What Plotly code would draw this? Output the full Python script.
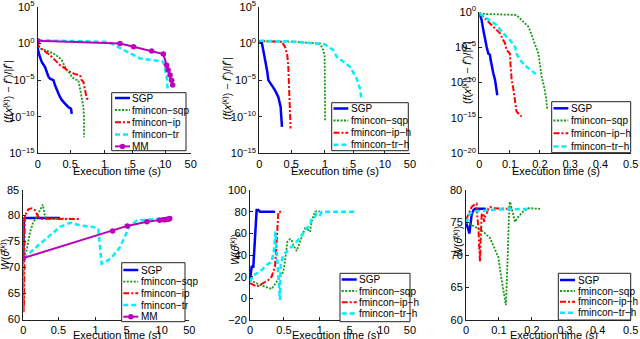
import numpy as np
import plotly.graph_objects as go

W, H = 640, 339
FONT = "Liberation Sans, Arial, sans-serif"

# ---- axis tick definitions ----
TIME_TICKS = [0, 0.5, 1, 5, 10, 50]
TIME_TICK_TEXT = ["0", "0.5", "1", "5", "10", "50"]
TIME_TICK_POS = [0, 1.06, 2.18, 3.11, 4.17, 5]   # stretched time axis (first two columns)
LIN_TICKS = [0, 0.1, 0.2, 0.3, 0.4, 0.5]
LOG_TICKS_A = [-15, -10, -5, 0, 5]
LOG_TICKS_C = [-20, -15, -10, -5, 0]
W_TICKS_D = [60, 65, 70, 75, 80, 85]
W_TICKS_E = [-20, 0, 20, 40, 60, 80, 100]
W_TICKS_F = [60, 65, 70, 75, 80]

# ---- top-left: relative error (log10), time in s ----
a_sgp_t = [0, 0.003, 0.026, 0.062, 0.113, 0.139, 0.164, 0.19, 0.242, 0.267, 0.293, 0.318, 0.344, 0.37, 0.421, 0.473, 0.513, 0.523]
a_sgp_e = [0.2, -0.8, -1.6, -2.5, -3.2, -3.9, -4.5, -4.8, -5.0, -5.7, -6.4, -6.8, -7.3, -7.7, -8.2, -8.7, -8.9, -9.6]
a_sqp_t = [0, 0.036, 0.113, 0.242, 0.318, 0.37, 0.421, 0.447, 0.499, 0.522, 0.571, 0.62, 0.644, 0.669, 0.693, 0.702, 0.704]
a_sqp_e = [0.2, -0.66, -0.89, -1.35, -1.8, -2.26, -3.17, -3.63, -4.09, -4.54, -4.9, -5.0, -6.14, -7.28, -8.65, -10.0, -12.8]
a_ip_t = [0, 0.01, 0.087, 0.19, 0.267, 0.344, 0.421, 0.499, 0.571, 0.644, 0.669, 0.693, 0.718, 0.742, 0.791]
a_ip_e = [0.2, -0.43, -0.89, -1.58, -2.26, -2.95, -3.4, -3.86, -4.18, -4.31, -5.0, -5.23, -6.37, -7.5, -7.65]
a_tr_t = [0, 0.5, 1.0, 1.79, 4.6, 6.1, 8.16, 9.7, 12.2, 13.8]
a_tr_e = [0.45, 0.35, 0.25, 0.11, -1.35, -2.03, -2.26, -2.49, -4.54, -6.14]
mm_t = [0, 3.2, 5.1, 7.9, 9.7, 12.2, 14.5, 17.5, 20, 21.7]
a_mm_e = [0.39, 0.02, -0.43, -1.03, -1.44, -2.95, -3.6, -4.31, -5.0, -5.68]

# ---- top-middle ----
b_sgp_t = [0, 0.037, 0.052, 0.073, 0.104, 0.125, 0.141, 0.193, 0.245, 0.297, 0.334, 0.344, 0.355]
b_sgp_e = [0.25, 0.2, -0.43, -1.35, -2.72, -3.86, -5.0, -5.68, -6.37, -7.28, -8.65, -10.0, -11.4]
b_sqp_t = [0, 0.5, 0.925, 0.975, 0.995, 1.0, 1.0, 1.0]
b_sqp_e = [0.34, 0.25, 0.02, -0.89, -1.8, -4.1, -7.74, -10.5]
b_ip_t = [0, 0.2, 0.35, 0.402, 0.438, 0.454, 0.464, 0.47, 0.49]
b_ip_e = [0.34, 0.3, 0.25, -0.43, -1.58, -3.17, -5.0, -7.74, -11.6]
b_tr_t = [0, 0.5, 1.0, 2.19, 2.66, 3.62, 4.57, 5.57, 6.09, 6.35]
b_tr_e = [0.39, 0.3, -0.11, -0.89, -1.8, -2.49, -3.17, -4.77, -6.14, -7.74]

# ---- top-right ----
c_sgp_t = [0, 0.0077, 0.0132, 0.0187, 0.0242, 0.0297, 0.0352, 0.0374, 0.0407, 0.0463, 0.0518, 0.055, 0.0595]
c_sgp_e = [-0.24, -1.18, -2.6, -4.0, -4.94, -5.9, -6.1, -6.8, -7.76, -8.7, -9.6, -10.6, -11.8]
c_sqp_t = [0, 0.024, 0.068, 0.123, 0.145, 0.162, 0.173, 0.184, 0.195, 0.2, 0.206, 0.214, 0.22, 0.225]
c_sqp_e = [-0.24, -0.33, -0.38, -0.47, -1.4, -2.1, -3.3, -4.47, -5.9, -7.3, -9.2, -10.6, -12.0, -13.9]
c_ip_t = [0, 0.0242, 0.0463, 0.0683, 0.079, 0.085, 0.09, 0.096, 0.101, 0.1035, 0.107, 0.112, 0.118, 0.121, 0.123, 0.134, 0.14]
c_ip_e = [-0.14, -1.18, -2.1, -3.06, -4.0, -4.47, -5.4, -5.65, -5.9, -7.76, -9.65, -10.8, -12.5, -13.9, -14.1, -14.6, -14.8]
c_tr_t = [0, 0.0242, 0.0573, 0.079, 0.101, 0.118, 0.123, 0.134, 0.156, 0.178, 0.189]
c_tr_e = [-0.24, -0.94, -1.88, -3.06, -4.0, -4.94, -5.9, -6.8, -7.76, -8.5, -8.9]

# ---- bottom-left: W(theta) ----
d_sgp_t = [0, 0.004, 0.008, 0.02, 0.05, 0.52]
d_sgp_w = [71.8, 76, 79.5, 79.6, 79.5, 79.5]
d_sqp_t = [0, 0.048, 0.095, 0.142, 0.19, 0.213, 0.247, 0.276, 0.294, 0.308, 0.355, 0.52, 0.70]
d_sqp_w = [71.8, 73.3, 76.8, 78.7, 79.7, 80.3, 81.3, 82.1, 81.0, 79.7, 79.4, 79.4, 79.4]
d_ip_t = [0, 0.004, 0.008, 0.012, 0.016, 0.024, 0.071, 0.119, 0.166, 0.213, 0.237, 0.4, 0.803]
d_ip_w = [71.8, 61.4, 68, 64, 74, 80, 81.2, 81.4, 81.0, 79.7, 79.4, 79.4, 79.3]
d_tr_t = [0, 0.095, 0.237, 0.379, 0.52, 0.655, 0.79, 0.968, 1.34, 1.56, 1.78, 2.64, 3.28, 4.14, 5.49, 6.44, 8.3, 9.7, 13.8]
d_tr_w = [71.8, 72.9, 74.6, 76.2, 77.8, 78.6, 78.1, 77.8, 77.4, 74.0, 70.7, 71.4, 72.3, 73.9, 78.1, 79.0, 79.2, 79.4, 79.5]
d_mm_w = [71.8, 77.0, 78.0, 78.8, 79.1, 79.2, 79.2, 79.3, 79.3, 79.4]

# ---- bottom-middle ----
e_sgp_t = [0, 0.01, 0.025, 0.049, 0.083, 0.098, 0.123, 0.147, 0.37]
e_sgp_w = [16.9, 24.6, 29.2, 29.2, 67.7, 81.5, 81.5, 80, 80]
e_sqp_t = [0, 0.147, 0.295, 0.319, 0.393, 0.491, 0.515, 0.548, 0.585, 0.608, 0.631, 0.678, 0.724, 0.794, 0.841, 0.864, 0.887, 0.934, 0.98, 1.0]
e_sqp_w = [16.9, 12.3, 9.2, 8.6, 15.4, 24.6, 33.8, 52.3, 54.8, 53.8, 49.2, 43.7, 52.3, 64.6, 63.1, 61.5, 70.8, 80, 80.6, 80]
e_ip_t = [0, 0.098, 0.147, 0.27, 0.319, 0.368, 0.393, 0.408, 0.418, 0.49]
e_ip_w = [14, 10.8, 12.3, 16.9, 20, 29.2, 52.3, 76.9, 80, 80]
e_tr_t = [0, 0.049, 0.147, 0.246, 0.319, 0.354, 0.373, 0.442, 0.452, 0.491, 0.562, 0.631, 0.724, 0.794, 0.864, 0.887, 0.934, 0.957, 1.03, 1.26, 1.7, 6.05]
e_tr_w = [15.4, 21.5, 24.6, 30.8, 33.8, 44.6, 61.5, -1.5, 30.8, 40, 44.6, 49.2, 55.4, 63.1, 67.7, 73.8, 75.4, 78.5, 76.9, 80, 80, 80]

# ---- bottom-right ----
f_sgp_t = [0, 0.004, 0.008, 0.0101, 0.013, 0.0172, 0.0223, 0.0273, 0.06]
f_sgp_w = [75.0, 74.5, 73.8, 73.3, 74.5, 76.2, 76.9, 77.1, 77.1]
f_sqp_t = [0, 0.0324, 0.0526, 0.0729, 0.088, 0.098, 0.105, 0.111, 0.118, 0.121, 0.124, 0.1285, 0.1316, 0.1336, 0.1387, 0.1437, 0.1488, 0.159, 0.174, 0.189, 0.225]
f_sqp_w = [75.1, 74.1, 73.6, 72.6, 70.8, 69.7, 67.2, 65.1, 63.0, 62.3, 66, 74.9, 77.7, 78.2, 77.2, 75.9, 75.1, 75.9, 76.7, 77.2, 77.1]
f_ip_t = [0, 0.0101, 0.0172, 0.0273, 0.0324, 0.0344, 0.0374, 0.0405, 0.0425, 0.0445, 0.0455, 0.0476, 0.0526, 0.0547, 0.0577, 0.0628, 0.0678, 0.0729, 0.083, 0.14]
f_ip_w = [75.4, 76.7, 77.4, 77.8, 77.9, 75.9, 74.4, 70.8, 69.0, 72.3, 74.9, 76.2, 76.4, 75.1, 75.9, 76.4, 77.2, 77.4, 77.2, 77.1]
f_tr_t = [0, 0.005, 0.012, 0.022, 0.05, 0.1, 0.2]
f_tr_w = [74.9, 75.6, 76.4, 76.7, 76.8, 77.0, 77.1]

STYLE = {
    "sgp": dict(color="#0000ff", dash="solid", width=2.5),
    "sqp": dict(color="#159a15", dash="2px,1.5px", width=1.8),
    "ip": dict(color="#ff0000", dash="6px,2px,2px,2px", width=2),
    "tr": dict(color="#00eeff", dash="5px,3px", width=2.5),
    "mm": dict(color="#bb00bb", dash="solid", width=2),
}


def tpos(t):
    return np.interp(np.asarray(t, float), TIME_TICKS, TIME_TICK_POS)


fig = go.Figure()


def add(k, t, y, key, stretched, logy=False):
    x = tpos(t) if stretched else np.asarray(t, float)
    yy = 10 ** np.asarray(y, float) if logy else y
    st = STYLE[key]
    kw = dict(mode="lines")
    if key == "mm":
        kw = dict(mode="lines+markers", marker=dict(size=5.5, color=st["color"]))
    fig.add_trace(go.Scatter(x=x, y=yy, line=dict(color=st["color"], dash=st["dash"], width=st["width"]),
                             xaxis="x" + ("" if k == 1 else str(k)), yaxis="y" + ("" if k == 1 else str(k)),
                             showlegend=False, hoverinfo="skip", **kw))


add(1, a_sgp_t, a_sgp_e, "sgp", True, True)
add(1, a_sqp_t, a_sqp_e, "sqp", True, True)
add(1, a_ip_t, a_ip_e, "ip", True, True)
add(1, a_tr_t, a_tr_e, "tr", True, True)
add(1, mm_t, a_mm_e, "mm", True, True)
add(2, b_sgp_t, b_sgp_e, "sgp", True, True)
add(2, b_sqp_t, b_sqp_e, "sqp", True, True)
add(2, b_ip_t, b_ip_e, "ip", True, True)
add(2, b_tr_t, b_tr_e, "tr", True, True)
add(3, c_sgp_t, c_sgp_e, "sgp", False, True)
add(3, c_sqp_t, c_sqp_e, "sqp", False, True)
add(3, c_ip_t, c_ip_e, "ip", False, True)
add(3, c_tr_t, c_tr_e, "tr", False, True)
add(4, d_sgp_t, d_sgp_w, "sgp", True)
add(4, d_sqp_t, d_sqp_w, "sqp", True)
add(4, d_ip_t, d_ip_w, "ip", True)
add(4, d_tr_t, d_tr_w, "tr", True)
add(4, mm_t, d_mm_w, "mm", True)
add(5, e_sgp_t, e_sgp_w, "sgp", True)
add(5, e_sqp_t, e_sqp_w, "sqp", True)
add(5, e_ip_t, e_ip_w, "ip", True)
add(5, e_tr_t, e_tr_w, "tr", True)
add(6, f_sgp_t, f_sgp_w, "sgp", False)
add(6, f_sqp_t, f_sqp_w, "sqp", False)
add(6, f_ip_t, f_ip_w, "ip", False)
add(6, f_tr_t, f_tr_w, "tr", False)

# ---- axes (pixel boxes: x0, x1, ytop, ybottom) ----
BOX = {
    1: (37.7, 190.7, 7, 153.3),
    2: (259.3, 410, 7, 153.3),
    3: (479.3, 630.7, 11.7, 153.3),
    4: (23.3, 189.3, 189.5, 319.5),
    5: (250, 410, 190, 320),
    6: (466, 630.7, 190, 320),
}
common = dict(showline=True, linecolor="#222", linewidth=1, ticks="inside", ticklen=3, tickcolor="#222",
              showgrid=False, zeroline=False, automargin=False, ticklabeloverflow="allow",
              tickfont=dict(family=FONT, size=11, color="black"))


def sup(v):
    return "10<sup>%s</sup>" % (str(v).replace("-", "−"))


def num(v):
    return str(v).replace("-", "−")


EPS = 1e-3
layout = {}
for k, (x0, x1, yt, yb) in BOX.items():
    sx = "" if k == 1 else str(k)
    xa = dict(common, domain=[x0 / W, x1 / W], anchor="y" + sx)
    ya = dict(common, domain=[1 - yb / H, 1 - yt / H], anchor="x" + sx)
    if k in (1, 2, 4, 5):
        xa.update(range=[0, 5 + EPS], tickmode="array", tickvals=TIME_TICK_POS, ticktext=TIME_TICK_TEXT)
    else:
        xa.update(range=[0, 0.5 + EPS / 10], tickmode="array", tickvals=LIN_TICKS,
                  ticktext=["0", "0.1", "0.2", "0.3", "0.4", "0.5"])
    if k in (1, 2):
        ya.update(type="log", range=[-15 - EPS, 5 + EPS], tickmode="array",
                  tickvals=[10.0 ** v for v in LOG_TICKS_A], ticktext=[sup(v) for v in LOG_TICKS_A])
    elif k == 3:
        ya.update(type="log", range=[-20 - EPS, 0 + EPS], tickmode="array",
                  tickvals=[10.0 ** v for v in LOG_TICKS_C], ticktext=[sup(v) for v in LOG_TICKS_C])
    else:
        ticks = {4: W_TICKS_D, 5: W_TICKS_E, 6: W_TICKS_F}[k]
        # the top label is written as a paper annotation (it was dropped at the domain edge)
        ya.update(range=[ticks[0] - EPS, ticks[-1] + EPS], tickmode="array", tickvals=ticks,
                  ticktext=[num(v) for v in ticks[:-1]] + [""])
    layout["xaxis" + sx] = xa
    layout["yaxis" + sx] = ya

shapes, annots = [], []


def px(x):
    return x / W


def py(y):
    return 1 - y / H


def text(x, y, s, size=11, angle=0, xanchor="center"):
    annots.append(dict(x=px(x), y=py(y), xref="paper", yref="paper", text=s, showarrow=False,
                       xanchor=xanchor, yanchor="middle", textangle=angle,
                       font=dict(family=FONT, size=size, color="black")))


# top tick labels of the W axes, placed at the top edge of each axis
for k, ticks in ((4, W_TICKS_D), (5, W_TICKS_E), (6, W_TICKS_F)):
    x0, x1, yt, yb = BOX[k]
    text(x0 - 2.5, yt, num(ticks[-1]), xanchor="right")

# axis titles
for x, y in [(117, 171), (335, 171), (556, 171), (117, 334.5), (336, 334.5), (554, 334.5)]:
    text(x, y, "Execution time (s)")
YT = "(<i>f</i>(<i>x</i><sup>(<i>k</i>)</sup>) − <i>f</i><sup>*</sup>)/|<i>f</i><sup>*</sup>|"
WT = "<i>W</i>(<i>θ̂</i><sup>(<i>k</i>)</sup>)"
text(7, 92, YT, size=10.5, angle=-90)
text(226, 89, YT, size=10.5, angle=-90)
text(466, 73, YT, size=10.5, angle=-90)
text(5, 255, WT, size=10.5, angle=-90)
text(234, 250, WT, size=10.5, angle=-90)
text(457, 242, WT, size=10.5, angle=-90)


def legend(box, entries, rows, lx0, lx1, tx):
    shapes.append(dict(type="rect", xref="paper", yref="paper", x0=px(box[0]), x1=px(box[2]),
                       y0=py(box[3]), y1=py(box[1]), line=dict(color="#222", width=1), fillcolor="white",
                       layer="above"))
    for (label, key), ry in zip(entries, rows):
        st = STYLE[key]
        shapes.append(dict(type="line", xref="paper", yref="paper", x0=px(lx0), x1=px(lx1), y0=py(ry), y1=py(ry),
                           line=dict(color=st["color"], dash=st["dash"], width=st["width"]), layer="above"))
        if key == "mm":
            c = (lx0 + lx1) / 2
            shapes.append(dict(type="circle", xref="paper", yref="paper", x0=px(c - 2.7), x1=px(c + 2.7),
                               y0=py(ry + 2.7), y1=py(ry - 2.7), fillcolor=st["color"],
                               line=dict(color=st["color"], width=0), layer="above"))
        text(tx, ry, label, size=10, xanchor="left")


legend((111.7, 92.7, 186, 150.7),
       [("SGP", "sgp"), ("fmincon−sqp", "sqp"), ("fmincon−ip", "ip"), ("fmincon−tr", "tr"), ("MM", "mm")],
       [98, 110, 122.3, 134.6, 146.4], 115, 130, 129.5)
legend((331.7, 102.7, 408.3, 150.7),
       [("SGP", "sgp"), ("fmincon−sqp", "sqp"), ("fmincon−ip−h", "ip"), ("fmincon−tr−h", "tr")],
       [108.5, 120.5, 132.7, 144.8], 333.5, 348.3, 348.5)
legend((551.7, 101.7, 630.7, 152.7),
       [("SGP", "sgp"), ("fmincon−sqp", "sqp"), ("fmincon−ip−h", "ip"), ("fmincon−tr−h", "tr")],
       [108.3, 120.5, 133.3, 146.5], 553.5, 568.3, 568.5)
legend((121.7, 262.7, 185, 321.7),
       [("SGP", "sgp"), ("fmincon−sqp", "sqp"), ("fmincon−ip", "ip"), ("fmincon−tr", "tr"), ("MM", "mm")],
       [270, 281.7, 293.3, 305, 316.7], 123.3, 138.3, 138.5)
legend((340, 273.3, 410, 321.7),
       [("SGP", "sgp"), ("fmincon−sqp", "sqp"), ("fmincon−ip−h", "ip"), ("fmincon−tr−h", "tr")],
       [279.5, 291, 302.3, 313.5], 341.7, 356.7, 357)
legend((558.3, 273.3, 630.7, 320),
       [("SGP", "sgp"), ("fmincon−sqp", "sqp"), ("fmincon−ip−h", "ip"), ("fmincon−tr−h", "tr")],
       [280, 291, 301.7, 312.7], 560, 575, 575.5)

fig.update_layout(width=W, height=H, margin=dict(l=0, r=0, t=0, b=0), paper_bgcolor="white",
                  plot_bgcolor="white", showlegend=False, shapes=shapes, annotations=annots,
                  font=dict(family=FONT, size=11, color="black"), **layout)
fig.write_html("out.html", config={"displayModeBar": False},
               post_script="document.body.style.margin='0';document.body.style.overflow='hidden';")
